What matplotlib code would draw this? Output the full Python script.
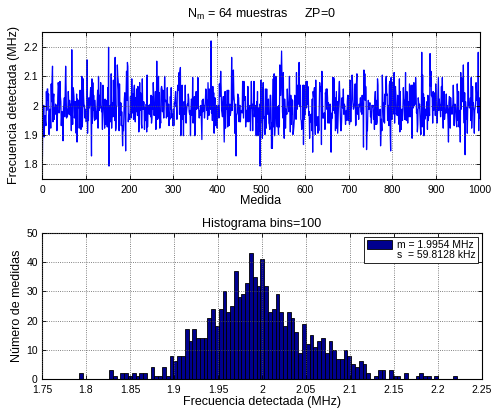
import numpy as np
import matplotlib
matplotlib.use('Agg')
import matplotlib.pyplot as plt
from matplotlib.patches import Patch

plt.rcParams['font.family'] = ['Liberation Sans', 'DejaVu Sans']
plt.rcParams['font.size'] = 9
plt.rcParams['mathtext.fontset'] = 'custom'
plt.rcParams['mathtext.rm'] = 'Liberation Sans'
plt.rcParams['mathtext.it'] = 'Liberation Sans'

# conteos del histograma (100 bins)
conteos = [2, 0, 0, 0, 0, 0, 0, 0, 3, 1,
           0, 2, 2, 1, 2, 1, 2, 2, 0, 4,
           1, 1, 4, 1, 8, 6, 8, 8, 17, 13,
           17, 14, 14, 14, 21, 24, 18, 24, 30, 23,
           25, 37, 28, 29, 33, 43, 35, 32, 41, 32,
           23, 24, 29, 23, 18, 23, 21, 16, 9, 19,
           12, 15, 11, 13, 14, 9, 13, 10, 7, 7,
           10, 8, 5, 4, 6, 5, 2, 0, 1, 3,
           3, 0, 3, 1, 1, 0, 2, 0, 0, 1,
           2, 1, 1, 0, 1, 0, 0, 0, 0, 1]
f_min = 1.7918
f_max = 2.2218
n_bins = 100

# posiciones de los picos visibles en la serie temporal
idx_minimos = [152, 497]
idx_maximos = [385, 151, 67, 546, 866, 995]

texto_leyenda = ['m = 1.9954 MHz', 's  = 59.8128 kHz']

# las medidas son los mismos valores del histograma
bordes = np.linspace(f_min, f_max, n_bins + 1)
centros = (bordes[:-1] + bordes[1:]) / 2
valores = np.sort(np.repeat(centros, conteos))
n = len(valores)

medidas = np.full(n, np.nan)
for k, i in enumerate(idx_minimos):
    medidas[i] = valores[k]
for k, i in enumerate(idx_maximos):
    medidas[i] = valores[n - 1 - k]
resto = valores[len(idx_minimos):n - len(idx_maximos)]
libres = np.where(np.isnan(medidas))[0]
k = np.arange(len(resto), dtype=np.int64)
clave = (k * 7919 + k * k * 104729) % 1000003
medidas[libres] = resto[np.argsort(clave)]

fig = plt.figure(figsize=(4.92, 4.12), dpi=100)
ax1 = fig.add_axes([42/492, 1 - 179/412, 438/492, 147/412])
ax2 = fig.add_axes([42/492, 1 - 379/412, 440/492, 146/412])

ax1.plot(np.arange(1, n + 1), medidas, color='b', lw=0.9)
ax1.set_xlim(0, 1000)
ax1.set_ylim(1.75, 2.25)
ax1.set_xticks(np.arange(0, 1001, 100))
ax1.set_yticks([1.8, 1.9, 2.0, 2.1, 2.2])
ax1.set_yticklabels(['1.8', '1.9', '2', '2.1', '2.2'])
ax1.set_xlabel('Medida', labelpad=0)
ax1.set_ylabel('Frecuencia detectada (MHz)', labelpad=2)
ax1.set_title(r'N$_{m}$ = 64 muestras     ZP=0', fontsize=9, pad=10)

ax2.hist(medidas, bins=bordes, color=(0, 0, 0.5625), edgecolor='k', lw=0.6)
ax2.set_xlim(1.75, 2.25)
ax2.set_ylim(0, 50)
ax2.set_xticks(np.arange(1.75, 2.251, 0.05))
ax2.set_xticklabels(['1.75', '1.8', '1.85', '1.9', '1.95', '2', '2.05',
                     '2.1', '2.15', '2.2', '2.25'])
ax2.set_yticks(np.arange(0, 51, 10))
ax2.set_xlabel('Frecuencia detectada (MHz)', labelpad=1)
ax2.set_ylabel('Número de medidas', labelpad=2)
ax2.set_title('Histograma bins=100', fontsize=9, pad=4)

h1 = Patch(facecolor=(0, 0, 0.5625), edgecolor='k', lw=0.6)
h2 = Patch(facecolor='none', edgecolor='none')
leg = ax2.legend([h1, h2], texto_leyenda, loc='upper right', fontsize=7.5,
                 handlelength=2.4, handleheight=1.0, handletextpad=0.4,
                 labelspacing=0.0, borderpad=0.3, fancybox=False,
                 framealpha=1, edgecolor='k', borderaxespad=0.35)
leg.get_frame().set_linewidth(0.6)

for ax in (ax1, ax2):
    ax.grid(True, linestyle=':', color='0.35', lw=0.6)
    ax.tick_params(direction='in', top=True, right=True, length=3,
                   width=0.6, labelsize=7.5)
    ax.tick_params(axis='x', pad=4)
    ax.tick_params(axis='y', pad=3)
    for s in ax.spines.values():
        s.set_linewidth(0.8)
    ax.set_axisbelow(False)

fig.savefig('out.png', dpi=100)
